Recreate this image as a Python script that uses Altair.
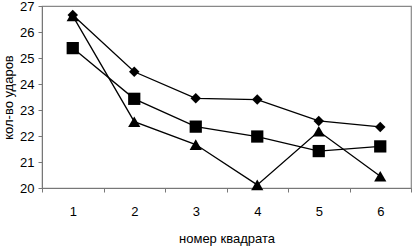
import altair as alt
import pandas as pd

squares = ["1", "2", "3", "4", "5", "6"]
series_diamond = [26.65, 24.47, 23.45, 23.40, 22.58, 22.35]
series_square = [25.38, 23.43, 22.36, 21.98, 21.42, 21.60]
series_triangle = [26.62, 22.55, 21.67, 20.12, 22.18, 20.45]

rows = []
for name, vals, shape in [("A", series_diamond, "diamond"),
                          ("B", series_square, "square"),
                          ("C", series_triangle, "triangle-up")]:
    for sq, v in zip(squares, vals):
        rows.append({"sq": sq, "v": v, "s": name, "shape": shape})
df = pd.DataFrame(rows)

font = "Liberation Sans"

x = alt.X("sq:O", sort=squares,
          scale=alt.Scale(paddingInner=0, paddingOuter=0),
          axis=alt.Axis(title="номер квадрата", labelAngle=0, tickBand="extent",
                        labelPadding=13, tickSize=4, titlePadding=14,
                        domainColor="#777777", tickColor="#777777"))
y = alt.Y("v:Q", scale=alt.Scale(domain=[20, 27], nice=False, zero=False),
          axis=alt.Axis(title="кол-во ударов", values=list(range(20, 28)),
                        grid=False, tickSize=4, labelPadding=4,
                        titleX=-27, titleBaseline="bottom", titleAngle=-90,
                        domainColor="#777777", tickColor="#777777"))

lines = alt.Chart(df).mark_line(color="black", strokeWidth=1.3).encode(
    x=x, y=y, detail="s:N")

pts = alt.Chart(df).mark_point(filled=True, color="black", opacity=1).encode(
    x=x, y=y,
    shape=alt.Shape("shape:N", scale=None),
    size=alt.condition(alt.datum.shape == "diamond", alt.value(110), alt.value(150)))

chart = (lines + pts).properties(
    width=369, height=182,
    autosize=alt.AutoSizeParams(type="none"),
    padding={"left": 42, "top": 6, "right": 3, "bottom": 61},
    background="white",
).configure_view(stroke="#888888", strokeWidth=1.2).configure_axis(
    labelFont=font, titleFont=font, labelFontSize=13, titleFontSize=13,
    labelColor="black", titleColor="black", titleFontWeight="normal",
)

chart.save("out.html", embed_options={"renderer": "svg", "actions": False})
